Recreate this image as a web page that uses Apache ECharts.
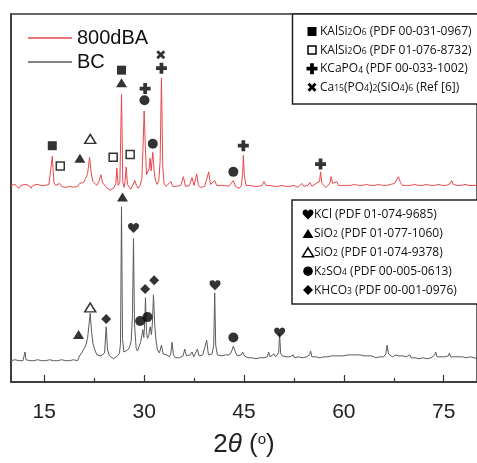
<!DOCTYPE html>
<html><head><meta charset="utf-8">
<script src="https://cdn.jsdelivr.net/npm/echarts@6/dist/echarts.min.js"></script>
<style>html,body{margin:0;padding:0;background:#fff}#c{width:477px;height:463px}</style>
</head><body><div id="c"></div>
<script>
const seriesNames = ['800dBA', 'BC'];
const red800dBA = [[10.0,203],[10.3,201],[10.6,204],[10.9,202],[11.2,200],[11.5,203],[11.8,201],[12.1,204],[12.4,202],[12.7,203],[13.0,200],[13.3,203],[13.6,201],[13.9,204],[14.2,202],[14.5,203],[14.8,201],[15.1,203],[15.4,202],[15.7,204],[15.95,206],[16.2,233],[16.45,206],[16.7,203],[17.0,201],[17.3,205],[17.6,202],[17.9,204],[18.2,201],[18.5,203],[18.8,202],[19.1,204],[19.4,201],[19.7,203],[20.0,202],[20.3,205],[20.6,207],[20.9,206],[21.2,210],[21.5,215],[21.8,232],[22.05,216],[22.3,207],[22.6,205],[22.9,203],[23.2,207],[23.5,214],[23.75,206],[24.0,204],[24.3,201],[24.6,200],[24.9,198],[25.2,199],[25.5,201],[25.75,205],[25.9,221],[26.1,203],[26.35,206],[26.6,297],[26.8,206],[27.0,201],[27.15,208],[27.3,222],[27.5,204],[27.7,202],[28.0,199],[28.3,201],[28.6,208],[28.85,203],[29.1,200],[29.4,203],[29.65,210],[29.85,245],[30.0,280],[30.15,248],[30.35,214],[30.55,212],[30.75,220],[30.9,231],[31.05,218],[31.3,237],[31.5,218],[31.7,208],[31.95,204],[32.2,208],[32.4,228],[32.6,314],[32.8,222],[33.0,205],[33.3,202],[33.6,204],[34.0,207],[34.3,202],[34.6,200],[34.9,202],[35.2,201],[35.5,203],[35.9,212],[36.2,202],[36.5,201],[36.8,203],[37.2,211],[37.5,203],[37.7,205],[37.9,215],[38.15,203],[38.5,201],[38.8,203],[39.1,202],[39.4,204],[39.7,217],[39.95,204],[40.2,202],[40.6,208],[40.9,203],[41.2,201],[41.5,203],[41.8,201],[42.1,203],[42.4,201],[42.7,202],[43.0,204],[43.4,208],[43.7,202],[44.0,201],[44.3,200],[44.6,203],[44.8,215],[44.9,234],[45.05,214],[45.3,203],[45.6,201],[45.9,203],[46.2,201],[46.5,202],[46.8,200],[47.1,202],[47.4,204],[47.7,203],[48.0,207],[48.3,203],[48.6,202],[48.9,203],[49.2,201],[49.5,202],[49.8,200],[50.1,202],[50.4,201],[50.7,203],[51.0,201],[51.3,202],[51.6,200],[51.9,202],[52.2,201],[52.5,203],[52.8,202],[53.1,201],[53.4,203],[53.7,205],[54.0,202],[54.3,204],[54.6,203],[54.9,206],[55.2,202],[55.5,203],[55.8,205],[56.1,203],[56.35,207],[56.5,217],[56.7,205],[57.0,203],[57.3,201],[57.6,203],[57.9,205],[58.1,212],[58.3,205],[58.6,204],[58.9,207],[59.2,203],[59.5,201],[59.8,203],[60.1,202],[60.4,203],[60.7,201],[61.0,203],[61.3,202],[61.6,204],[61.9,202],[62.2,203],[62.5,201],[62.8,203],[63.1,202],[63.4,204],[63.7,202],[64.0,203],[64.3,201],[64.6,203],[64.9,202],[65.2,204],[65.5,202],[65.8,203],[66.1,201],[66.4,203],[66.7,202],[67.0,204],[67.3,203],[67.6,205],[67.9,207],[68.2,212],[68.5,206],[68.8,203],[69.1,202],[69.4,203],[69.7,201],[70.0,203],[70.3,202],[70.6,204],[70.9,202],[71.2,203],[71.5,201],[71.8,203],[72.1,202],[72.4,204],[72.7,202],[73.0,203],[73.3,201],[73.6,203],[73.9,202],[74.2,204],[74.5,202],[74.8,203],[75.1,201],[75.4,203],[75.7,204],[76.0,205],[76.2,208],[76.45,204],[76.7,202],[77.0,203],[77.3,201],[77.6,203],[77.9,202],[78.2,204],[78.5,202],[78.8,203],[79.1,201],[79.4,203],[79.7,202],[80.0,203]];
const grayBC = [[10.0,22],[10.3,20],[10.6,23],[10.9,21],[11.2,22],[11.5,20],[11.8,22],[12.0,24],[12.1,31],[12.25,23],[12.5,21],[12.8,22],[13.1,20],[13.4,22],[13.7,21],[14.0,23],[14.3,21],[14.6,22],[14.9,20],[15.2,22],[15.5,21],[15.8,23],[16.1,21],[16.4,22],[16.7,20],[17.0,22],[17.3,21],[17.6,23],[17.9,21],[18.2,22],[18.5,20],[18.8,22],[19.1,21],[19.4,23],[19.7,21],[20.0,22],[20.3,27],[20.6,30],[20.9,32],[21.2,37],[21.5,45],[21.7,58],[21.9,71],[22.1,52],[22.3,40],[22.6,33],[22.9,28],[23.2,26],[23.5,27],[23.8,26],[24.05,30],[24.3,57],[24.5,33],[24.8,27],[25.1,26],[25.4,24],[25.7,26],[26.0,27],[26.3,30],[26.45,40],[26.6,181],[26.75,45],[26.95,31],[27.2,30],[27.5,33],[27.8,36],[28.05,42],[28.25,70],[28.4,148],[28.55,60],[28.8,35],[29.0,32],[29.25,37],[29.5,42],[29.65,48],[29.8,54],[29.95,46],[30.1,62],[30.2,87],[30.35,52],[30.5,45],[30.7,48],[30.9,57],[31.1,49],[31.25,62],[31.4,90],[31.6,58],[31.8,42],[32.0,33],[32.3,30],[32.6,38],[32.85,29],[33.1,27],[33.4,28],[33.8,26],[34.0,29],[34.2,41],[34.4,28],[34.7,25],[35.0,27],[35.3,25],[35.6,27],[35.85,27],[36.1,34],[36.35,27],[36.6,26],[36.9,28],[37.2,31],[37.45,26],[37.7,28],[38.0,34],[38.25,27],[38.5,26],[38.8,28],[39.1,30],[39.4,43],[39.65,28],[39.9,27],[40.2,29],[40.45,38],[40.6,92],[40.75,38],[41.0,28],[41.3,26],[41.6,27],[41.9,26],[42.2,28],[42.5,26],[42.8,28],[43.1,31],[43.4,37],[43.7,31],[44.0,27],[44.3,26],[44.6,28],[44.8,31],[45.05,27],[45.3,26],[45.6,25],[45.9,27],[46.2,25],[46.5,26],[46.8,24],[47.1,26],[47.4,25],[47.7,27],[48.0,25],[48.3,27],[48.5,26],[48.7,31],[48.9,26],[49.2,27],[49.5,29],[49.75,26],[50.0,27],[50.2,30],[50.35,50],[50.5,30],[50.7,27],[51.0,25],[51.3,26],[51.6,24],[51.9,26],[52.2,25],[52.4,28],[52.6,25],[52.9,24],[53.2,26],[53.5,24],[53.8,25],[54.1,24],[54.4,26],[54.7,25],[54.85,28],[55.0,32],[55.2,26],[55.5,25],[55.8,26],[56.1,24],[56.4,25],[56.7,24],[57.0,26],[57.3,25],[57.6,26],[57.9,25],[58.2,27],[58.5,26],[58.8,27],[59.1,25],[59.4,27],[59.7,26],[60.0,27],[60.3,26],[60.6,28],[60.9,27],[61.2,28],[61.5,26],[61.8,28],[62.1,27],[62.4,28],[62.7,26],[63.0,27],[63.3,26],[63.6,27],[63.9,25],[64.2,27],[64.5,26],[64.8,25],[65.1,27],[65.4,26],[65.7,27],[66.0,26],[66.3,29],[66.5,38],[66.7,29],[67.0,27],[67.3,26],[67.6,27],[67.85,28],[68.0,30],[68.2,27],[68.5,26],[68.8,27],[69.1,25],[69.4,26],[69.7,27],[69.9,28],[70.1,25],[70.4,26],[70.7,25],[71.0,26],[71.3,24],[71.6,26],[71.9,25],[72.2,26],[72.5,24],[72.8,26],[73.1,25],[73.4,26],[73.65,28],[73.8,31],[74.0,26],[74.3,25],[74.6,26],[74.9,24],[75.2,26],[75.5,25],[75.7,27],[75.85,30],[76.05,26],[76.3,25],[76.6,26],[76.9,24],[77.2,26],[77.5,25],[77.8,26],[78.1,24],[78.4,25],[78.7,24],[79.0,26],[79.3,24],[79.6,25],[80.0,24]];
const xMajorTicks = [15, 30, 45, 60, 75];
const xMinorTicks = [22.5, 37.5, 52.5, 67.5];

// phase markers: [2theta, height]
const mkSqFilled = [[16.2,244],[26.6,322]];
const mkSqOpen = [[17.4,223],[25.35,232],[27.9,235]];
const mkPlus = [[30.15,303],[32.6,324],[44.9,244],[56.5,225]];
const mkCross = [[32.5,338]];
const mkTri = [[20.35,231],[26.6,309],[20.15,49],[26.75,191]];
const mkTriOpen = [[21.9,251],[21.9,77]];
const mkCircle = [[30.05,291],[31.3,246],[43.4,217],[29.4,63],[30.5,67],[43.4,46]];
const mkDiamond = [[24.3,65],[30.15,96],[31.5,105]];
const mkHeart = [[28.4,159],[40.65,100],[50.35,51]];

const legendTopText = ['KAlSi{s|2}O{s|6} (PDF 00-031-0967)','KAlSi{s|2}O{s|6} (PDF 01-076-8732)','KCaPO{s|4} (PDF 00-033-1002)','Ca{s|15}(PO{s|4}){s|2}(SiO{s|4}){s|6} (Ref [6])'];
const legendTopSym = ['sqFilled','sqOpen','plus','cross'];
const legendBotText = ['KCl (PDF 01-074-9685)','SiO{s|2} (PDF 01-077-1060)','SiO{s|2} (PDF 01-074-9378)','K{s|2}SO{s|4} (PDF 00-005-0613)','KHCO{s|3} (PDF 00-001-0976)'];
const legendBotSym = ['heart','tri','triOpen','circle','diamond'];

// unit-shape outlines (0..1 box) used for both plotted symbols and legend keys
const PLUS_PTS = [[0.33,0],[0.67,0],[0.67,0.33],[1,0.33],[1,0.67],[0.67,0.67],[0.67,1],[0.33,1],[0.33,0.67],[0,0.67],[0,0.33],[0.33,0.33]];
const CROSS_PTS = [[0.22,0],[0.5,0.28],[0.78,0],[1,0.22],[0.72,0.5],[1,0.78],[0.78,1],[0.5,0.72],[0.22,1],[0,0.78],[0.28,0.5],[0,0.22]];
const HEART_PTS = [[0.5,1],[0.09,0.55],[0.02,0.4],[0.01,0.25],[0.05,0.12],[0.13,0.04],[0.23,0],[0.33,0.01],[0.43,0.07],[0.5,0.18],[0.57,0.07],[0.67,0.01],[0.77,0],[0.87,0.04],[0.95,0.12],[0.99,0.25],[0.98,0.4],[0.91,0.55]];
function ptsToPath(p) { return 'path://M' + p.map(q => (q[0]*100).toFixed(1) + ',' + (q[1]*100).toFixed(1)).join('L') + 'Z'; }
function ptsAt(p, cx, cy, w, h) { return p.map(q => [cx - w/2 + q[0]*w, cy - h/2 + q[1]*h]); }

function gSym(kind, cx, cy) {
  const blk = {fill:'#000'};
  switch (kind) {
    case 'sqFilled': return {type:'rect', shape:{x:cx-4.5,y:cy-4.5,width:9,height:9}, style:blk};
    case 'sqOpen': return {type:'rect', shape:{x:cx-4,y:cy-4,width:8,height:8}, style:{fill:'#fff',stroke:'#000',lineWidth:1.5}};
    case 'plus': return {type:'polygon', shape:{points:ptsAt(PLUS_PTS,cx,cy,11,11)}, style:blk};
    case 'cross': return {type:'polygon', shape:{points:ptsAt(CROSS_PTS,cx,cy,9,9)}, style:blk};
    case 'heart': return {type:'polygon', shape:{points:ptsAt(HEART_PTS,cx,cy,11,10)}, style:blk};
    case 'tri': return {type:'polygon', shape:{points:[[cx,cy-4.5],[cx+5.5,cy+4.5],[cx-5.5,cy+4.5]]}, style:blk};
    case 'triOpen': return {type:'polygon', shape:{points:[[cx,cy-4.5],[cx+5.5,cy+4.5],[cx-5.5,cy+4.5]]}, style:{fill:'#fff',stroke:'#000',lineWidth:1.5}};
    case 'circle': return {type:'circle', shape:{cx:cx,cy:cy,r:4.8}, style:blk};
    case 'diamond': return {type:'polygon', shape:{points:[[cx,cy-5],[cx+5,cy],[cx,cy+5],[cx-5,cy]]}, style:blk};
  }
}
const richSub = {s:{fontSize:8.5, lineHeight:5, verticalAlign:'bottom', fontFamily:'Open Sans', color:'#111'}};
function legendBox(x, y, h, rows, syms, symX, textX, rowY, step) {
  const els = [{type:'rect', shape:{x:x,y:y,width:220,height:h}, style:{fill:'#fff',stroke:'#222',lineWidth:1.5}, z:10}];
  rows.forEach((t, i) => {
    const cy = rowY + i*step;
    const s = gSym(syms[i], symX, cy); s.z = 11; els.push(s);
    els.push({type:'text', x:textX, y:cy, z:11, style:{text:t, fontSize:12, fontFamily:'Open Sans', fill:'#111', verticalAlign:'middle', align:'left', rich:richSub}});
  });
  return els;
}

const chart = echarts.init(document.getElementById('c'));
const scatterBase = {type:'scatter', xAxisIndex:0, yAxisIndex:0, z:5, itemStyle:{color:'#000'}, silent:true};
chart.setOption({
  animation:false,
  backgroundColor:'#fff',
  grid:{left:11, top:14, bottom:69, width:471, show:true, borderColor:'#333', borderWidth:1.5},
  legend:{data:seriesNames, orient:'vertical', left:28, top:26, padding:0, itemGap:0, itemWidth:44, itemHeight:1.5, icon:'rect',
    textStyle:{fontFamily:'Liberation Sans', fontSize:20, color:'#111', lineHeight:24}},
  xAxis:[{type:'value', min:10, max:80, position:'bottom',
    axisLine:{show:true, lineStyle:{color:'#333', width:1.5}},
    axisTick:{show:true, inside:true, length:7, customValues:xMajorTicks, lineStyle:{color:'#333', width:1.2}},
    axisLabel:{customValues:xMajorTicks, margin:20, fontFamily:'Liberation Sans', fontSize:21, color:'#222'},
    splitLine:{show:false},
    name:'2{i|θ} ({o|o})', nameLocation:'middle', nameGap:50,
    nameTextStyle:{fontFamily:'Liberation Sans', fontSize:26, color:'#222',
      rich:{i:{fontStyle:'italic', fontFamily:'Liberation Sans', fontSize:26, color:'#222'}, o:{fontSize:15, fontFamily:'Liberation Sans', color:'#222', verticalAlign:'top', lineHeight:22}}}},
   {type:'value', min:10, max:80, position:'bottom', offset:0,
    axisLine:{show:false}, axisLabel:{show:false}, splitLine:{show:false},
    axisTick:{show:true, inside:true, length:4, customValues:xMinorTicks, lineStyle:{color:'#333', width:1.2}}}],
  yAxis:{type:'value', min:0, max:380, show:true, axisLine:{show:true, lineStyle:{color:'#333', width:1.5}}, axisTick:{show:false}, axisLabel:{show:false}, splitLine:{show:false}},
  series:[
    {name:seriesNames[0], type:'line', data:red800dBA, showSymbol:false, symbol:'none', lineStyle:{color:'#e8474c', width:1}, itemStyle:{color:'#e8474c'}, z:2},
    {name:seriesNames[1], type:'line', data:grayBC, showSymbol:false, symbol:'none', lineStyle:{color:'#5b5b5b', width:1}, itemStyle:{color:'#5b5b5b'}, z:2},
    Object.assign({}, scatterBase, {data:mkSqFilled, symbol:'rect', symbolSize:9}),
    Object.assign({}, scatterBase, {data:mkSqOpen, symbol:'rect', symbolSize:8, itemStyle:{color:'#fff', borderColor:'#000', borderWidth:1.5}}),
    Object.assign({}, scatterBase, {data:mkPlus, symbol:ptsToPath(PLUS_PTS), symbolSize:11}),
    Object.assign({}, scatterBase, {data:mkCross, symbol:ptsToPath(CROSS_PTS), symbolSize:9}),
    Object.assign({}, scatterBase, {data:mkTri, symbol:'triangle', symbolSize:[11,9]}),
    Object.assign({}, scatterBase, {data:mkTriOpen, symbol:'triangle', symbolSize:[11,9], itemStyle:{color:'#fff', borderColor:'#000', borderWidth:1.5}}),
    Object.assign({}, scatterBase, {data:mkCircle, symbol:'circle', symbolSize:10}),
    Object.assign({}, scatterBase, {data:mkDiamond, symbol:'diamond', symbolSize:[10,10]}),
    Object.assign({}, scatterBase, {data:mkHeart, symbol:ptsToPath(HEART_PTS), symbolSize:[11,10]})
  ],
  graphic: legendBox(292.5, 14, 90, legendTopText, legendTopSym, 312, 320, 31.5, 18.6)
    .concat(legendBox(292, 200, 104, legendBotText, legendBotSym, 308, 314, 214.5, 18.9))
});
</script></body></html>
